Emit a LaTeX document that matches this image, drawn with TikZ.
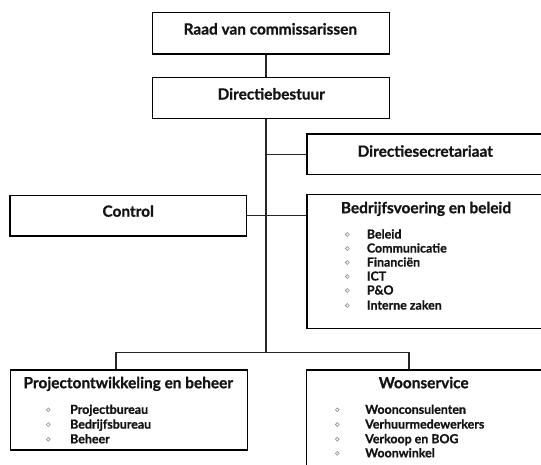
\documentclass[tikz,border=0pt]{standalone}
\usepackage{fontspec}
\setmainfont{Lato}[BoldFeatures={FakeBold=0.9}]
\begin{document}
\begin{tikzpicture}[x=1pt, y=-1pt,
  unitbox/.style={draw=black, line width=1.3pt, rectangle, inner sep=0pt,
    minimum width=236.6pt},
  link/.style={draw=black!85, line width=1.2pt},
  heading/.style={anchor=base, inner sep=0pt, font=\fontsize{15.4}{17}\selectfont\bfseries, text=black!92},
  item/.style={anchor=base west, inner sep=0pt, font=\fontsize{12.4}{14}\selectfont\bfseries, text=black!92},
  dot/.style={draw=black!45, line width=0.6pt}
]
\useasboundingbox (0,0) rectangle (541,464);
\clip (0,0) rectangle (541,464);

% boxes
\node[unitbox, minimum height=41.3pt] (raad) at (271,33.35) {};
\node[unitbox, minimum height=41pt] (directie) at (271,97.8) {};
\node[unitbox, minimum height=40.3pt] (sec) at (425.3,154.2) {};
\node[unitbox, minimum height=40.3pt] (control) at (128.3,215.85) {};
\node[unitbox, minimum height=134pt] (bedrijfs) at (425.3,261.5) {};
\node[unitbox, minimum height=80pt] (project) at (129,410) {};
\node[unitbox, minimum height=102pt] (woon) at (424.5,421) {};

% connectors
\coordinate (trunk) at (266,0);
\coordinate (split) at (266,352.7);
\coordinate (dropL) at (116,352.7);
\coordinate (dropR) at (409,352.7);
\draw[link] (raad.south -| trunk) -- (directie.north -| trunk);
\draw[link] (directie.south -| trunk) -- (split);
\draw[link] (sec.west -| trunk) -- (sec.west);
\draw[link] (control.east) -- (control.east -| bedrijfs.west);
\draw[link] (project.north -| dropL) -- (dropL) -- (dropR) -- (woon.north -| dropR);

% headings
\node[heading] (raadT) at (270.3,34.5) {Raad van commissarissen};
\node[heading] (directieT) at (271.3,99.5) {Directiebestuur};
\node[heading] (secT) at (425.3,156.7) {Directiesecretariaat};
\node[heading] (controlT) at (128.2,216.7) {Control};
\node[heading] (bedrijfsT) at (426,213.2) {Bedrijfsvoering en beleid};
\node[heading] (projectT) at (128.3,388.2) {Projectontwikkeling en beheer};
\node[heading] (woonT) at (423.7,388.2) {Woonservice};

% list entries
\foreach \txt/\yy [count=\i] in {Beleid/238.5, Communicatie/252.5, Financiën/266.5, ICT/280.5, P\&O/294.5, Interne zaken/309.5}{
  \draw[dot] (347.3,\yy-4) circle (1.9);
  \node[item] (bItem\i) at (366.7,\yy) {\txt};
}
\foreach \txt/\yy [count=\i] in {Projectbureau/413.8, Bedrijfsbureau/428.6, Beheer/443.3}{
  \draw[dot] (48.3,\yy-4) circle (1.9);
  \node[item] (pItem\i) at (70,\yy) {\txt};
}
\foreach \txt/\yy [count=\i] in {Woonconsulenten/413.8, Verhuurmedewerkers/428.5, Verkoop en BOG/443.2, Woonwinkel/457.3}{
  \draw[dot] (337.3,\yy-4) circle (1.9);
  \node[item] (wItem\i) at (365,\yy) {\txt};
}
\end{tikzpicture}
\end{document}
